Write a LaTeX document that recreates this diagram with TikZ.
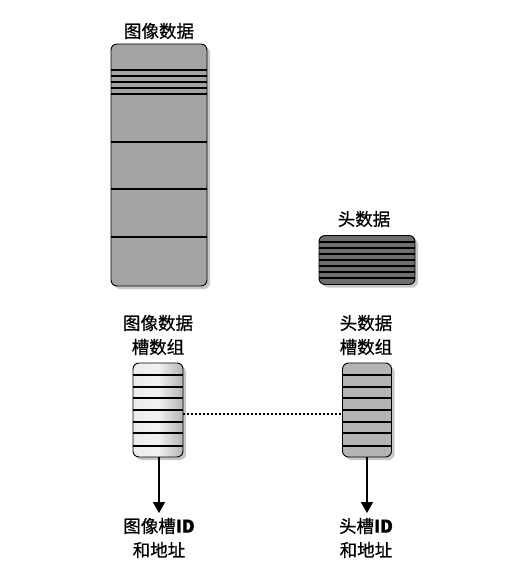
\documentclass[tikz,border=0pt]{standalone}
\usepackage{fontspec}
\setmainfont{Noto Sans CJK SC}
\newfontfamily\lblfont{Noto Sans CJK SC}[FakeBold=0.7]
\usetikzlibrary{shadows,arrows.meta}

\definecolor{imggray}{HTML}{A3A3A3}
\definecolor{hdrgray}{HTML}{6E6E6E}
\definecolor{slotgray}{HTML}{B4B4B4}

\tikzset{
  block/.style={draw, line width=0.9pt, rounded corners=6pt, inner sep=0pt,
    drop shadow={shadow xshift=3pt, shadow yshift=-3pt, opacity=0.45}},
  lbl/.style={align=center, font=\lblfont\fontsize{17.5}{24}\selectfont},
  sep/.style={line width=1.2pt},
  idarrow/.style={line width=1.6pt, -{Triangle[width=12pt,length=11pt]}},
}

\begin{document}
\begin{tikzpicture}[x=1pt, y=-1pt]
    \useasboundingbox (0,0) rectangle (515,569);

    % Image data
    \node[block, fill=imggray, minimum width=96pt, minimum height=242pt] (imgdata) at (159,165) {};
    \node[lbl] (imgdatalbl) at (159,31) {图像数据};
    \foreach \y in {70,76,82,88,94,142,189,237}
        \draw[sep] (111,\y) -- (207,\y);

    % Header data
    \node[block, fill=hdrgray, minimum width=96pt, minimum height=49pt] (hdrdata) at (367,260) {};
    \node[lbl] (hdrdatalbl) at (364,219) {头数据};
    \foreach \y in {242,248,254,260,266,272,278}
        \draw[sep] (319,\y) -- (415,\y);

    % Slot arrays
    \node[block, left color=white!85!gray, right color=slotgray, middle color=white!90!gray,
          minimum width=50pt, minimum height=94pt] (imgslots) at (158,410) {};
    \node[block, fill=slotgray, minimum width=49pt, minimum height=94pt] (hdrslots) at (367,410) {};
    \foreach \y in {375,387,398,410,422,433,446} {
        \draw[sep] (133,\y) -- (183,\y);
        \draw[sep] (342.5,\y) -- (391.5,\y);
    }
    \node[lbl] (imgslotslbl) at (158,335) {图像数据\\槽数组};
    \node[lbl] (hdrslotslbl) at (366,335) {头数据\\槽数组};

    % Link between slot arrays
    \draw[line width=2pt, dash pattern=on 2pt off 2pt] ([yshift=-4pt]imgslots.east) -- ([yshift=-4pt]hdrslots.west);

    % IDs and addresses
    \coordinate (imgid) at (159,513);
    \coordinate (hdrid) at (367,513);
    \draw[idarrow] (imgslots.south -| imgid) -- (imgid);
    \draw[idarrow] (hdrslots.south -| hdrid) -- (hdrid);
    \node[lbl] (imgidlbl) at (159,538) {图像槽\textbf{ID}\\和地址};
    \node[lbl] (hdridlbl) at (366,538) {头槽\textbf{ID}\\和地址};
\end{tikzpicture}
\end{document}
